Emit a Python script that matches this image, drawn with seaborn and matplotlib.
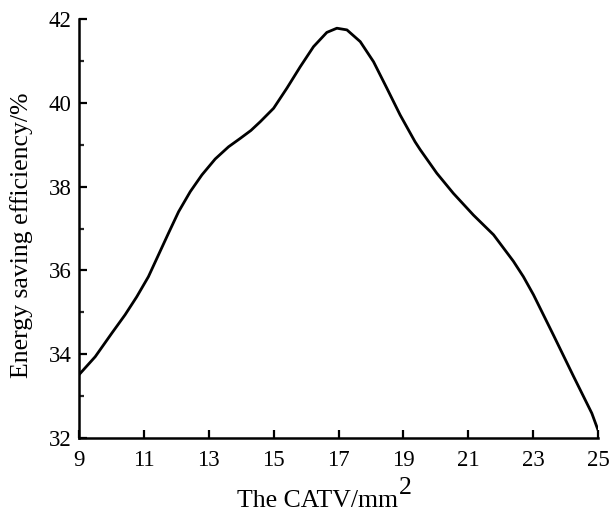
import matplotlib
matplotlib.use("Agg")
import matplotlib.pyplot as plt
import seaborn as sns
import pandas as pd
from matplotlib.ticker import MultipleLocator

# Values
catv = [9.00, 9.50, 10.01, 10.42, 10.78, 11.14, 11.45, 11.76, 12.07, 12.43,
        12.79, 13.20, 13.61, 13.97, 14.30, 14.59, 15.00, 15.41, 15.82, 16.23,
        16.64, 16.95, 17.26, 17.67, 18.08, 18.49, 18.90, 19.36, 19.52, 20.03,
        20.54, 21.16, 21.78, 22.39, 22.70, 23.01, 23.63, 24.24, 24.81, 25.00]
efficiency = [33.51, 33.94, 34.50, 34.94, 35.37, 35.85, 36.37, 36.89, 37.40, 37.88,
              38.28, 38.66, 38.95, 39.15, 39.34, 39.55, 39.87, 40.35, 40.86, 41.34,
              41.68, 41.78, 41.74, 41.46, 40.98, 40.35, 39.71, 39.07, 38.88, 38.32,
              37.84, 37.32, 36.85, 36.22, 35.85, 35.42, 34.45, 33.48, 32.59, 32.19]
x_ticks = [9, 11, 13, 15, 17, 19, 21, 23, 25]
y_ticks = [32, 34, 36, 38, 40, 42]

df = pd.DataFrame({"catv": catv, "eff": efficiency})

sns.set_theme(style="ticks")
plt.rcParams["font.family"] = ["Liberation Serif", "DejaVu Serif"]

fig = plt.figure(figsize=(6.12, 5.13), dpi=100)
ax = fig.add_axes([79 / 612, 75 / 513, (598 - 79) / 612, (438 - 19) / 513])

sns.lineplot(data=df, x="catv", y="eff", ax=ax, color="black", linewidth=2.0,
             sort=False, estimator=None)
ax.lines[0].set_solid_joinstyle("round")

ax.set_xlim(9, 25)
ax.set_ylim(32, 42)
ax.set_xticks(x_ticks)
ax.set_yticks(y_ticks)
ax.yaxis.set_minor_locator(MultipleLocator(1))
ax.tick_params(axis="both", which="major", direction="in", length=6, width=1.6,
               labelsize=16.5, colors="black")
ax.tick_params(axis="y", which="major", pad=5.5)
ax.tick_params(axis="x", which="major", pad=8.5)
ax.tick_params(axis="y", which="minor", direction="in", length=3.3, width=1.6)

for s in ["top", "right"]:
    ax.spines[s].set_visible(False)
for s in ["left", "bottom"]:
    ax.spines[s].set_linewidth(1.8)
    ax.spines[s].set_color("black")

ax.set_xlabel("The CATV/mm", fontsize=18.5, color="black")
ax.set_ylabel("Energy saving efficiency/%", fontsize=18.5, color="black")
ax.xaxis.set_label_coords(0.4595, -0.125)
ax.yaxis.set_label_coords(-0.088, 0.483)

fig.canvas.draw()
bb = ax.xaxis.label.get_window_extent()
fig.text(bb.x1 / fig.bbox.width + 0.002, (bb.y1 - 9) / fig.bbox.height, "2",
         fontsize=18.5, color="black", ha="left", va="bottom")

fig.savefig("out.png", dpi=100)
